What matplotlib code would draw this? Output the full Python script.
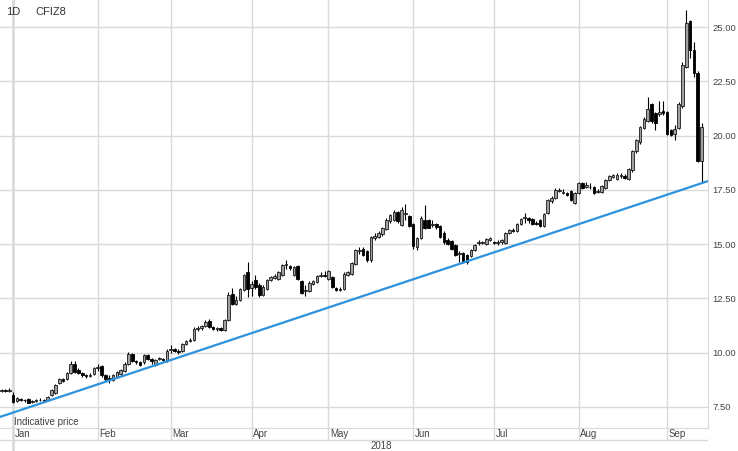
import matplotlib
matplotlib.use('Agg')
import matplotlib.pyplot as plt
import numpy as np

plt.rcParams['font.family'] = ['Liberation Sans', 'DejaVu Sans']

# Дневные свечи CFIZ8 (индекс = торговый день, с 27 дек 2017)
opens = [8.22, 8.28, 8.24, 8.05, 7.78, 7.88, 7.82, 7.85, 7.72, 7.78,
         7.8, 7.82, 7.8, 8.05, 8.15, 8.6, 8.8, 8.8, 9.05, 9.5,
         9.2, 9.05, 8.95, 8.92, 9.0, 9.3, 9.4, 8.95, 8.82, 8.75,
         8.9, 9.0, 9.15, 9.5, 9.95, 9.6, 9.55, 9.55, 9.9, 9.7,
         9.45, 9.7, 9.7, 9.6, 10.12, 10.15, 10.1, 10.1, 10.4, 10.55,
         10.6, 11.1, 11.12, 11.25, 11.45, 11.2, 11.1, 11.15, 11.05, 11.5,
         12.7, 12.25, 12.45, 12.9, 13.7, 13.0, 13.35, 13.1, 12.65, 12.95,
         13.35, 13.45, 13.4, 13.6, 14.05, 14.0, 13.6, 14.0, 13.3, 12.85,
         12.85, 13.15, 13.25, 13.55, 13.6, 13.4, 13.5, 13.0, 12.9, 12.95,
         13.6, 13.65, 14.1, 14.7, 14.8, 14.7, 14.25, 15.3, 15.35, 15.45,
         15.7, 16.05, 16.1, 16.5, 15.9, 16.4, 16.3, 15.95, 14.85, 15.3,
         16.1, 16.1, 15.9, 15.95, 15.85, 15.5, 15.2, 15.15, 14.95, 14.55,
         14.6, 14.5, 14.45, 14.75, 15.05, 15.05, 15.0, 15.2, 15.1, 15.05,
         15.1, 15.05, 15.5, 15.65, 15.6, 15.95, 16.2, 16.2, 16.15, 16.0,
         16.1, 15.85, 16.45, 17.0, 17.15, 17.45, 17.38, 17.35, 17.45, 16.9,
         17.35, 17.8, 17.65, 17.65, 17.65, 17.4, 17.4, 17.6, 17.95, 18.1,
         18.0, 18.15, 18.15, 18.0, 18.4, 19.3, 19.7, 20.35, 20.7, 21.45,
         21.05, 21.0, 21.15, 21.1, 20.25, 20.1, 20.35, 21.35, 23.15, 25.3,
         23.95, 22.9, 18.85]
highs = [8.35, 8.32, 8.38, 8.2, 7.95, 7.92, 7.85, 7.9, 7.82, 7.88,
         7.9, 7.86, 8.02, 8.35, 8.55, 8.85, 8.85, 9.1, 9.6, 9.6,
         9.3, 9.1, 9.0, 9.05, 9.35, 9.5, 9.45, 9.0, 8.95, 9.0,
         9.15, 9.25, 9.55, 10.05, 10.0, 9.65, 9.6, 9.95, 9.95, 9.75,
         9.7, 9.8, 9.75, 10.15, 10.35, 10.2, 10.15, 10.45, 10.6, 10.7,
         11.2, 11.25, 11.3, 11.5, 11.55, 11.25, 11.2, 11.2, 11.55, 12.8,
         13.0, 12.6, 13.0, 13.65, 14.2, 13.3, 13.6, 13.2, 13.1, 13.4,
         13.55, 13.65, 13.75, 14.1, 14.25, 14.05, 14.0, 14.05, 13.35, 13.1,
         13.3, 13.35, 13.6, 13.7, 13.75, 13.8, 13.55, 13.05, 13.05, 13.7,
         13.75, 14.2, 14.8, 14.85, 14.85, 14.75, 15.4, 15.5, 15.6, 15.8,
         16.2, 16.4, 16.6, 16.55, 16.7, 16.85, 16.35, 16.0, 15.35, 16.3,
         16.8, 16.15, 16.1, 16.0, 15.9, 15.6, 15.3, 15.2, 15.0, 14.7,
         14.65, 14.55, 14.8, 15.0, 15.2, 15.15, 15.3, 15.35, 15.15, 15.2,
         15.25, 15.55, 15.7, 15.75, 16.0, 16.2, 16.45, 16.25, 16.2, 16.05,
         16.15, 16.45, 17.1, 17.2, 17.6, 17.6, 17.55, 17.4, 17.5, 17.4,
         17.85, 17.85, 17.85, 17.8, 17.7, 17.55, 17.75, 18.0, 18.2, 18.25,
         18.3, 18.3, 18.25, 18.5, 19.35, 19.85, 20.45, 20.85, 21.8, 21.5,
         21.1, 21.6, 21.6, 21.15, 20.3, 20.5, 21.55, 23.4, 25.8, 25.35,
         24.3, 23.0, 20.6]
lows = [8.18, 8.2, 8.2, 7.7, 7.72, 7.78, 7.74, 7.66, 7.68, 7.72,
        7.76, 7.74, 7.76, 8.0, 8.1, 8.55, 8.65, 8.75, 9.0, 9.05,
        9.0, 8.9, 8.85, 8.88, 8.95, 9.15, 8.9, 8.7, 8.6, 8.68,
        8.85, 8.95, 9.1, 9.45, 9.55, 9.5, 9.4, 9.5, 9.65, 9.5,
        9.4, 9.65, 9.6, 9.55, 10.0, 10.05, 9.95, 10.05, 10.35, 10.5,
        10.55, 11.0, 11.05, 11.2, 11.15, 11.05, 11.0, 10.98, 11.0, 11.45,
        12.2, 12.2, 12.4, 12.85, 12.55, 12.6, 12.95, 12.55, 12.6, 12.9,
        13.3, 13.4, 13.35, 13.55, 13.85, 13.8, 13.55, 13.35, 12.7, 12.6,
        12.8, 13.1, 13.2, 13.5, 13.5, 13.35, 13.0, 12.85, 12.85, 12.9,
        13.55, 13.6, 14.05, 14.55, 14.45, 14.2, 14.2, 15.2, 15.3, 15.4,
        15.65, 16.0, 16.05, 16.0, 15.85, 16.1, 15.8, 14.8, 14.75, 15.25,
        15.7, 15.75, 15.8, 15.7, 15.3, 15.0, 14.95, 14.75, 14.45, 14.2,
        14.15, 14.1, 14.4, 14.7, 14.95, 15.0, 14.95, 15.15, 15.0, 14.95,
        15.0, 15.0, 15.45, 15.55, 15.55, 15.9, 16.0, 16.0, 15.9, 15.9,
        15.8, 15.8, 16.4, 16.9, 17.1, 17.4, 17.3, 17.2, 17.0, 16.85,
        17.3, 17.55, 17.6, 17.55, 17.3, 17.35, 17.35, 17.55, 17.9, 18.05,
        17.95, 18.05, 18.0, 17.95, 18.35, 19.2, 19.6, 20.3, 20.65, 20.6,
        20.25, 20.9, 20.95, 20.05, 20.0, 19.8, 20.3, 21.3, 23.1, 23.6,
        22.7, 18.8, 17.87]
closes = [8.28, 8.24, 8.27, 7.75, 7.9, 7.82, 7.8, 7.7, 7.78, 7.8,
          7.84, 7.76, 7.98, 8.28, 8.5, 8.8, 8.7, 9.05, 9.5, 9.1,
          9.05, 8.95, 8.92, 8.98, 9.3, 9.32, 8.95, 8.8, 8.78, 8.95,
          9.1, 9.2, 9.5, 9.95, 9.6, 9.55, 9.45, 9.9, 9.7, 9.6,
          9.65, 9.75, 9.65, 10.1, 10.15, 10.1, 10.02, 10.4, 10.55, 10.6,
          11.1, 11.12, 11.25, 11.4, 11.2, 11.1, 11.15, 11.05, 11.5, 12.65,
          12.25, 12.45, 12.95, 13.6, 12.95, 13.15, 13.05, 12.65, 13.05, 13.35,
          13.5, 13.55, 13.7, 14.05, 14.1, 13.9, 13.95, 13.4, 12.75, 12.88,
          13.2, 13.3, 13.55, 13.6, 13.55, 13.75, 13.05, 12.9, 12.95, 13.65,
          13.7, 14.15, 14.75, 14.75, 14.5, 14.25, 15.35, 15.4, 15.5, 15.75,
          16.1, 16.35, 16.5, 16.05, 16.6, 16.45, 15.85, 14.9, 15.3, 16.2,
          15.75, 15.75, 15.95, 15.8, 15.35, 15.1, 15.0, 14.8, 14.5, 14.6,
          14.2, 14.2, 14.75, 14.95, 15.08, 15.1, 15.25, 15.3, 15.05, 15.08,
          15.2, 15.5, 15.65, 15.6, 15.95, 16.15, 16.25, 16.1, 15.95, 15.95,
          15.85, 16.4, 17.05, 17.15, 17.5, 17.5, 17.4, 17.25, 17.05, 17.35,
          17.8, 17.6, 17.75, 17.62, 17.35, 17.45, 17.7, 17.95, 18.15, 18.2,
          18.2, 18.17, 18.05, 18.45, 19.3, 19.8, 20.4, 20.75, 21.25, 20.7,
          20.6, 21.1, 21.05, 20.1, 20.05, 20.3, 21.45, 23.25, 25.2, 23.95,
          22.9, 18.85, 20.4]

# Начала месяцев (индексы свечей) и подписи
month_idx = [3, 25, 44, 65, 85, 107, 128, 150, 173]
month_labels = ['Jan', 'Feb', 'Mar', 'Apr', 'May', 'Jun', 'Jul', 'Aug', 'Sep']
y_ticks = [7.5, 10.0, 12.5, 15.0, 17.5, 20.0, 22.5, 25.0]

# Линия тренда
trend_x = [-0.39, 183.65]
trend_y = [7.04, 17.91]

grid_col = '#dadada'

fig = plt.figure(figsize=(7.38, 4.51), dpi=100)
ax = fig.add_axes([0, 23 / 451, 708 / 738, 428 / 451])
band = fig.add_axes([0, 0, 708 / 738, 23 / 451])

x = np.arange(len(opens))
o = np.array(opens)
c = np.array(closes)
up = c >= o

# Сетка
for yt in y_ticks:
    ax.axhline(yt, color=grid_col, lw=1.0, zorder=0)
for i, m in enumerate(month_idx):
    ax.axvline(m, color=grid_col, lw=2.0 if i == 0 else 1.0, zorder=0)

# Свечи: рост - серое тело с контуром, падение - чёрное
ax.vlines(x, lows, highs, color='black', lw=0.8, zorder=2)
body_h = np.maximum(np.abs(c - o), 0.04)
body_b = np.minimum(o, c)
ax.bar(x[up], body_h[up], bottom=body_b[up], width=0.68, color='#a0a0a0',
       edgecolor='#1a1a1a', linewidth=0.6, zorder=3)
ax.bar(x[~up], body_h[~up], bottom=body_b[~up], width=0.68, color='black',
       edgecolor='black', linewidth=0.6, zorder=3)

ax.plot(trend_x, trend_y, color='#2b93df', lw=1.6, zorder=4)

ax.set_xlim(-0.39, 183.65)
ax.set_ylim(6.53, 26.256)
ax.yaxis.tick_right()
ax.set_yticks(y_ticks)
ax.set_yticklabels([f'{v:.2f}' for v in y_ticks], fontsize=6.8, color='#444444')
ax.tick_params(axis='y', length=0, pad=3)
ax.set_xticks([])
for s in ['top', 'left']:
    ax.spines[s].set_visible(False)
ax.spines['right'].set_color(grid_col)
ax.spines['bottom'].set_color(grid_col)

ax.text(14 / 708, 6 / 428, 'Indicative price', transform=ax.transAxes,
        fontsize=7, color='#444444', va='center', ha='left')

# Полоса с месяцами
band.set_xlim(-0.39, 183.65)
band.set_ylim(0, 1)
band.axis('off')
band.axhline(11 / 23, color=grid_col, lw=1.0)
for i, m in enumerate(month_idx):
    if i == 0:
        band.axvline(m, color=grid_col, lw=2.0)
    else:
        band.axvline(m, ymin=11 / 23, ymax=1, color=grid_col, lw=1.0)
    band.text(m + 0.5, 17 / 23, month_labels[i], fontsize=7, color='#444444',
              va='center', ha='left')
band.text(381 / 708, 5 / 23, '2018', transform=band.transAxes, fontsize=7,
          color='#444444', va='center', ha='center')

fig.text(6 / 738, 1 - 12 / 451, '1D', fontsize=8, color='#333333', va='center')
fig.text(35 / 738, 1 - 12 / 451, 'CFIZ8', fontsize=8, color='#333333', va='center')

plt.savefig('out.png', dpi=100)
plt.close()
